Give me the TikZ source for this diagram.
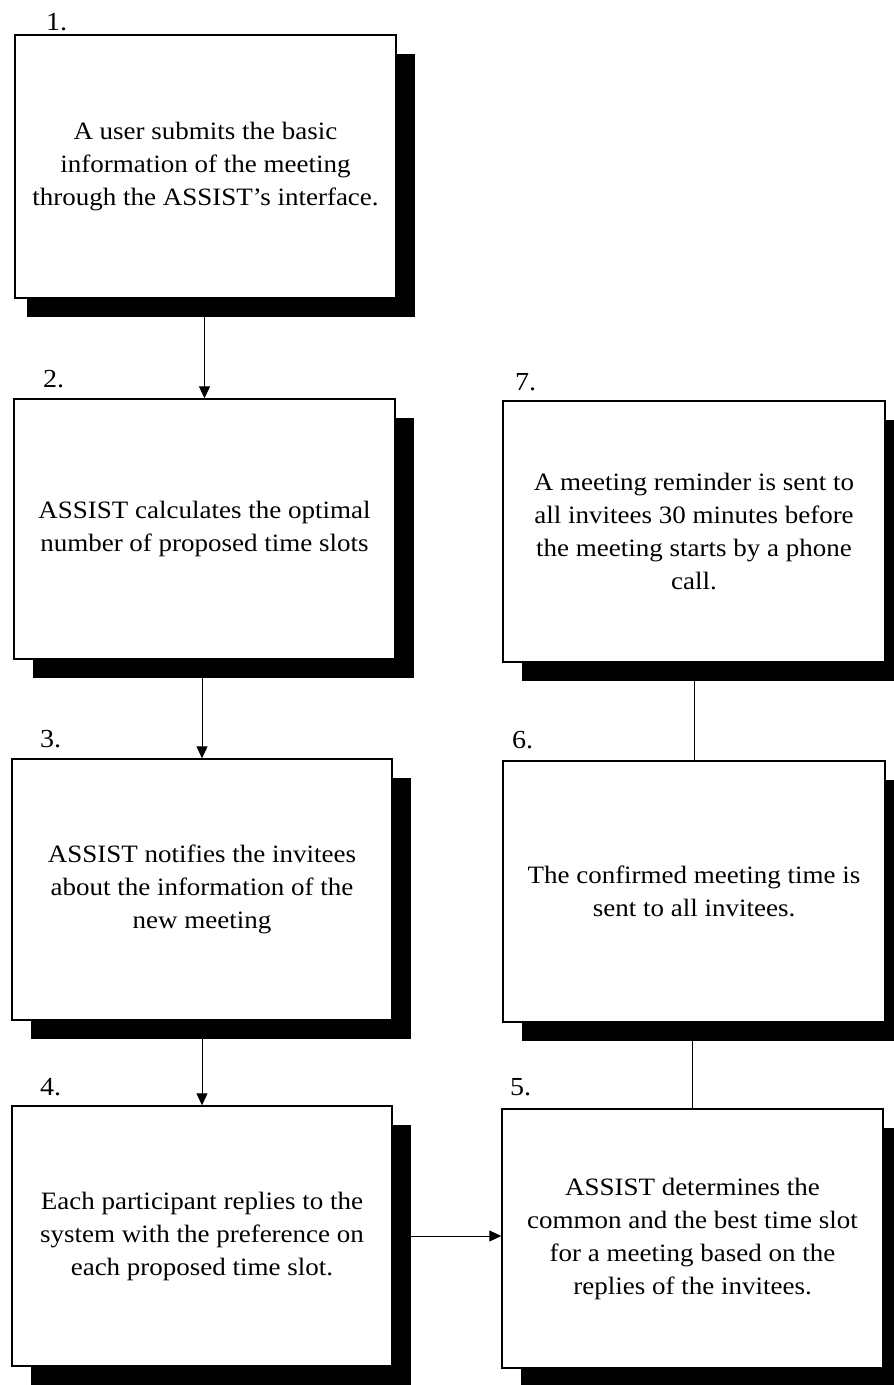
\documentclass[tikz,border=0pt]{standalone}
\usepackage{fontspec}
\setmainfont{Liberation Serif}[FakeStretch=1.08]
\usetikzlibrary{arrows.meta,shadows}
\begin{document}
\begin{tikzpicture}[x=1pt,y=-1pt,
  stepbox/.style={draw, line width=1.4pt, fill=white, inner sep=0pt,
    align=center, font=\fontsize{25}{33}\selectfont,
    drop shadow={shadow xshift=19pt, shadow yshift=-19pt, fill=black, opacity=1}},
  numlabel/.style={font=\fontsize{26}{33}\selectfont, inner sep=0pt, anchor=base west},
  flow/.style={line width=1pt, -{Triangle[length=12pt,width=11pt]}},
  link/.style={line width=1pt}]
\useasboundingbox (0,0) rectangle (894,1385);

% left column: steps 1 to 4
\node[stepbox, minimum width=381pt, minimum height=263pt,
  drop shadow={shadow xshift=12pt, shadow yshift=-19pt, fill=black, opacity=1}]
  (b1) at (205.5,166.5)
  {A user submits the basic\\information of the meeting\\through the ASSIST’s interface.};
\node[stepbox, minimum width=381pt, minimum height=260pt] (b2) at (204.5,529)
  {ASSIST calculates the optimal\\number of proposed time slots};
\node[stepbox, minimum width=380pt, minimum height=261pt] (b3) at (202,889.5)
  {ASSIST notifies the invitees\\about the information of the\\new meeting};
\node[stepbox, minimum width=380pt, minimum height=260pt] (b4) at (202,1236)
  {Each participant replies to the\\system with the preference on\\each proposed time slot.};

% right column: steps 5 to 7
\node[stepbox, minimum width=381pt, minimum height=259pt] (b5) at (692.5,1238.5)
  {ASSIST determines the\\common and the best time slot\\for a meeting based on the\\replies of the invitees.};
\node[stepbox, minimum width=382pt, minimum height=261pt] (b6) at (694,891.5)
  {The confirmed meeting time is\\sent to all invitees.};
\node[stepbox, minimum width=382pt, minimum height=261pt] (b7) at (694,531.5)
  {A meeting reminder is sent to\\all invitees 30 minutes before\\the meeting starts by a phone\\call.};

% step numbers
\node[numlabel] (n1) at (46,30) {1.};
\node[numlabel] (n2) at (43,387) {2.};
\node[numlabel] (n3) at (40,747) {3.};
\node[numlabel] (n4) at (40,1095) {4.};
\node[numlabel] (n5) at (510,1095) {5.};
\node[numlabel] (n6) at (512,748) {6.};
\node[numlabel] (n7) at (515,390) {7.};

% connectors
\draw[flow] (b1.south -| b2.north) -- (b2.north);
\draw[flow] (b2.south -| b3.north) -- (b3.north);
\draw[flow] (b3.south -| b4.north) -- (b4.north);
\draw[flow] (b4.east) -- (b4.east -| b5.west);
\draw[link] (b5.north) -- (b5.north |- b6.south);
\draw[link] (b6.north) -- (b6.north |- b7.south);
\end{tikzpicture}
\end{document}
